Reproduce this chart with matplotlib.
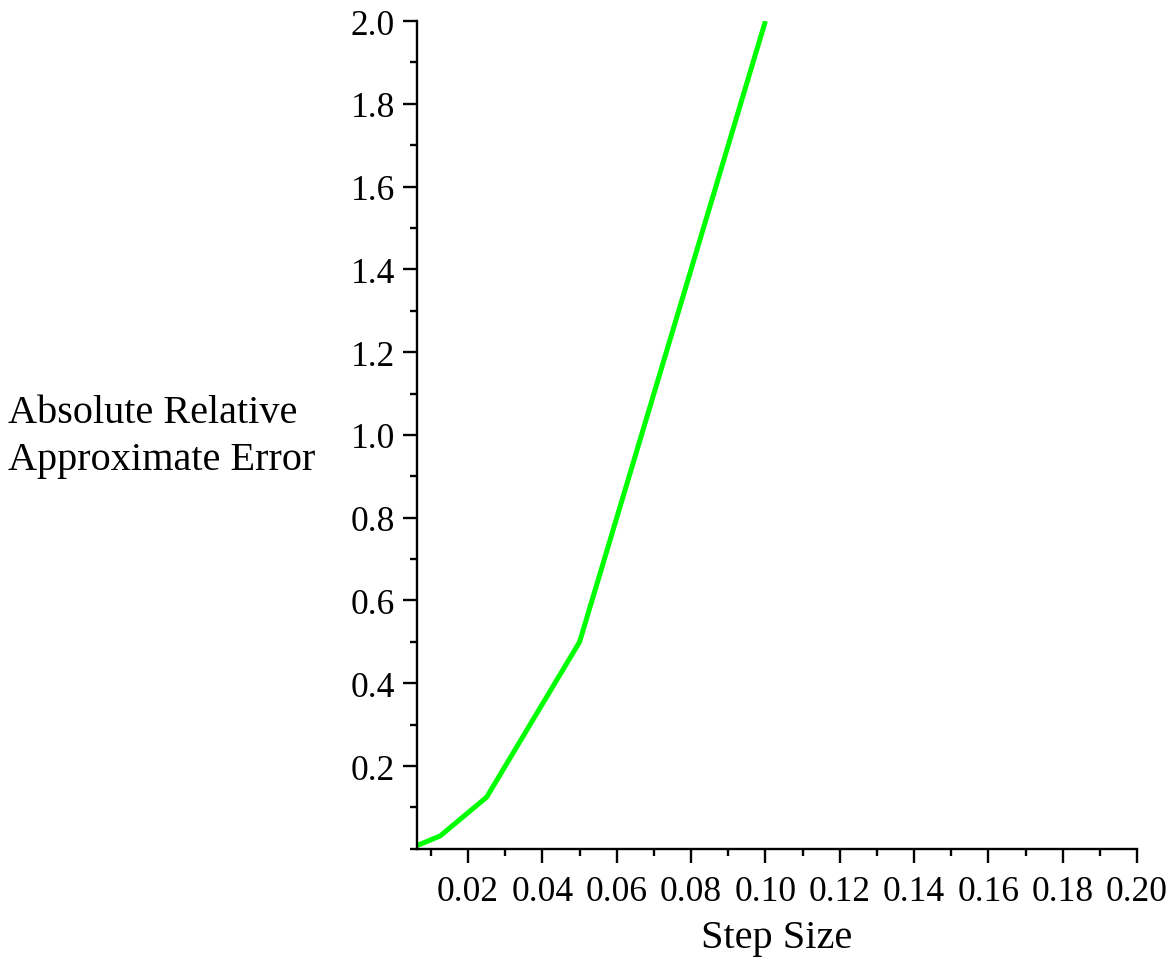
import numpy as np
import matplotlib.pyplot as plt
from matplotlib.ticker import MultipleLocator

# step sizes and absolute relative approximate error
step = [0.00625, 0.0125, 0.025, 0.05, 0.1]
err = [0.0078, 0.03125, 0.125, 0.5, 2.0]

plt.rcParams['font.family'] = ['Liberation Serif', 'DejaVu Serif']

fig = plt.figure(figsize=(11.75, 9.62), dpi=100)
ax = fig.add_axes([0.3549, 0.1166, 0.6128, 0.8605])

ax.plot(step, err, color='#00ff00', lw=3.6, solid_capstyle='butt')

ax.set_xlim(0.00625, 0.20)
ax.set_ylim(0, 2.0)
ax.xaxis.set_minor_locator(MultipleLocator(0.01))
ax.yaxis.set_minor_locator(MultipleLocator(0.1))
ax.set_xticks(np.arange(0.02, 0.201, 0.02))
ax.set_yticks(np.arange(0.2, 2.01, 0.2))
ax.xaxis.set_major_formatter(plt.FuncFormatter(lambda v, p: f'{v:.2f}'))
ax.yaxis.set_major_formatter(plt.FuncFormatter(lambda v, p: f'{v:.1f}'))

for s in ['top', 'right']:
    ax.spines[s].set_visible(False)
for s in ['left', 'bottom']:
    ax.spines[s].set_linewidth(1.7)

ax.tick_params(which='major', length=10, width=1.7, labelsize=25.5, direction='out')
ax.tick_params(which='minor', length=5, width=1.7, direction='out')
ax.tick_params(axis='x', pad=9)
ax.tick_params(axis='y', pad=6)

ax.set_xlabel('Step Size', fontsize=29, labelpad=8)
fig.text(0.007, 0.546, 'Absolute Relative\nApproximate Error', fontsize=29,
         ha='left', va='center', linespacing=1.35)

fig.savefig('out.png', dpi=100)
